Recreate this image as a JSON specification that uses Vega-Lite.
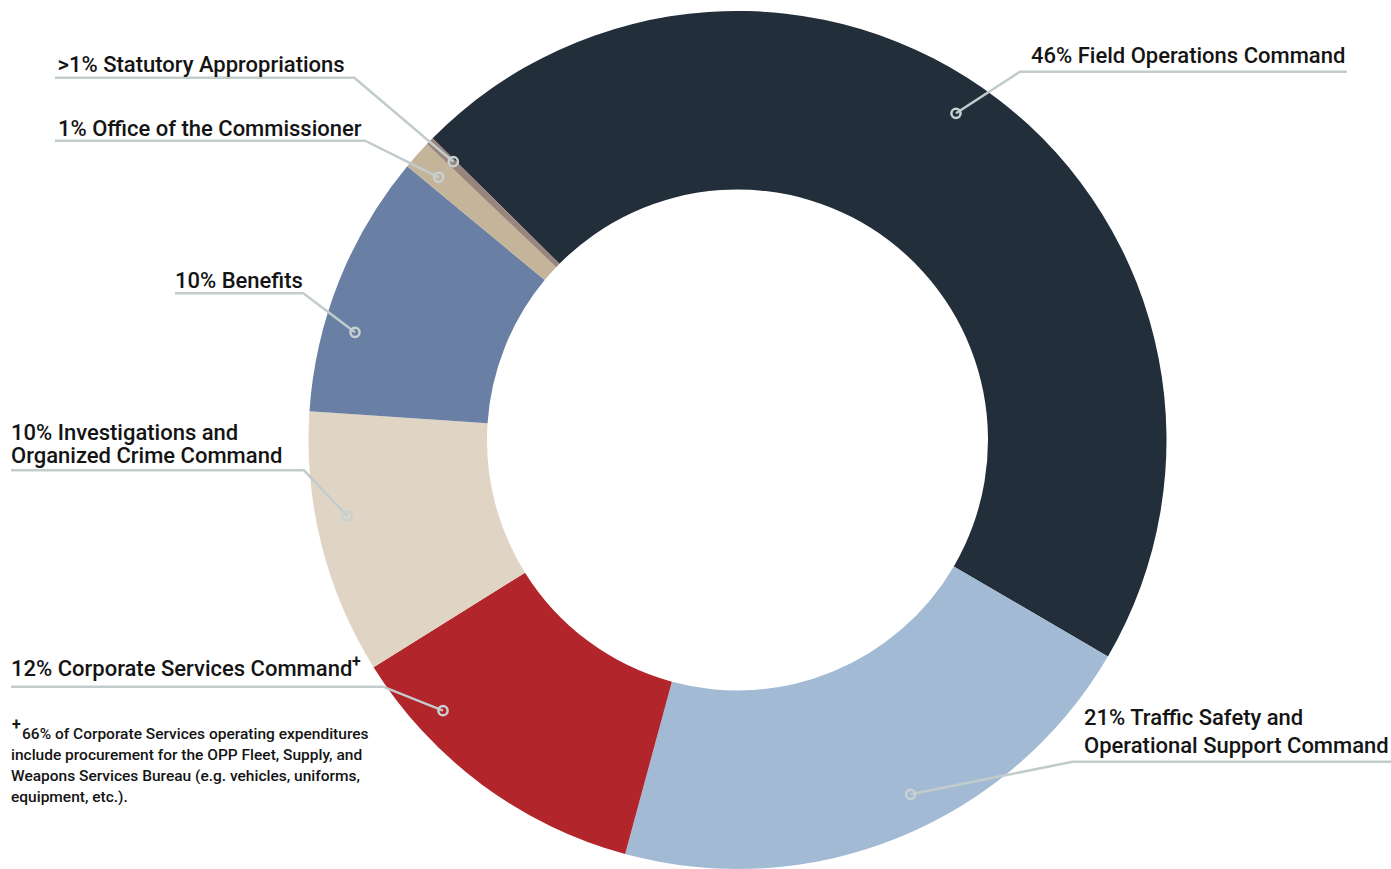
{
  "$schema": "https://vega.github.io/schema/vega-lite/v6.json",
  "width": 1391,
  "height": 869,
  "autosize": {"type": "none"},
  "padding": 0,
  "background": "#ffffff",
  "config": {"view": {"stroke": null}},
  "datasets": {
    "slices": [
      {"segment": "Field Operations Command", "pct": 46.0, "order": 1},
      {"segment": "Traffic Safety and Operational Support Command", "pct": 20.8, "order": 2},
      {"segment": "Corporate Services Command", "pct": 11.9, "order": 3},
      {"segment": "Investigations and Organized Crime Command", "pct": 9.95, "order": 4},
      {"segment": "Benefits", "pct": 9.95, "order": 5},
      {"segment": "Office of the Commissioner", "pct": 1.1, "order": 6},
      {"segment": "Statutory Appropriations", "pct": 0.3, "order": 7}
    ],
    "callouts": [
      {"callout": "field", "pt": 1, "ux": 1.4207, "uy": 0.8585},
      {"callout": "field", "pt": 2, "ux": 0.6585, "uy": 0.8585},
      {"callout": "field", "pt": 3, "ux": 0.5093, "uy": 0.7615},
      {"callout": "traffic", "pt": 1, "ux": 1.5233, "uy": -0.7499},
      {"callout": "traffic", "pt": 2, "ux": 0.7814, "uy": -0.7499},
      {"callout": "traffic", "pt": 3, "ux": 0.4037, "uy": -0.8259},
      {"callout": "corporate", "pt": 1, "ux": -1.6935, "uy": -0.5751},
      {"callout": "corporate", "pt": 2, "ux": -0.8263, "uy": -0.5751},
      {"callout": "corporate", "pt": 3, "ux": -0.6865, "uy": -0.631},
      {"callout": "investigations", "pt": 1, "ux": -1.6935, "uy": -0.0706},
      {"callout": "investigations", "pt": 2, "ux": -1.0105, "uy": -0.0706},
      {"callout": "investigations", "pt": 3, "ux": -0.9096, "uy": -0.1772},
      {"callout": "benefits", "pt": 1, "ux": -1.3112, "uy": 0.342},
      {"callout": "benefits", "pt": 2, "ux": -1.0121, "uy": 0.342},
      {"callout": "benefits", "pt": 3, "ux": -0.8916, "uy": 0.251},
      {"callout": "office", "pt": 1, "ux": -1.5909, "uy": 0.6977},
      {"callout": "office", "pt": 2, "ux": -0.8683, "uy": 0.6977},
      {"callout": "office", "pt": 3, "ux": -0.6965, "uy": 0.6124},
      {"callout": "statutory", "pt": 1, "ux": -1.5909, "uy": 0.8445},
      {"callout": "statutory", "pt": 2, "ux": -0.8932, "uy": 0.8445},
      {"callout": "statutory", "pt": 3, "ux": -0.6625, "uy": 0.6487}
    ],
    "labels": [
      {"kind": "label", "text": "46% Field Operations Command", "ux": 0.6841, "uy": 0.8788},
      {"kind": "label", "text": "21% Traffic Safety and", "ux": 0.8077, "uy": -0.6643},
      {"kind": "label", "text": "Operational Support Command", "ux": 0.8077, "uy": -0.7296},
      {"kind": "label", "text": "12% Corporate Services Command", "ux": -1.6935, "uy": -0.5501},
      {"kind": "label", "text": "10% Investigations and", "ux": -1.6935, "uy": 0.0},
      {"kind": "label", "text": "Organized Crime Command", "ux": -1.6935, "uy": -0.0536},
      {"kind": "label", "text": "10% Benefits", "ux": -1.3112, "uy": 0.3543},
      {"kind": "label", "text": "1% Office of the Commissioner", "ux": -1.5839, "uy": 0.7075},
      {"kind": "label", "text": ">1% Statutory Appropriations", "ux": -1.585, "uy": 0.8578},
      {"kind": "note", "text": "66% of Corporate Services operating expenditures", "ux": -1.6678, "uy": -0.697},
      {"kind": "note", "text": "include procurement for the OPP Fleet, Supply, and", "ux": -1.6935, "uy": -0.7459},
      {"kind": "note", "text": "Weapons Services Bureau (e.g. vehicles, uniforms,", "ux": -1.6935, "uy": -0.7949},
      {"kind": "note", "text": "equipment, etc.).", "ux": -1.6935, "uy": -0.8438},
      {"kind": "mark", "text": "+", "ux": -0.8986, "uy": -0.5291},
      {"kind": "mark", "text": "+", "ux": -1.6911, "uy": -0.676}
    ]
  },
  "layer": [
    {
      "data": {"name": "slices"},
      "mark": {"type": "arc", "outerRadius": 429, "innerRadius": 250.5},
      "encoding": {
        "theta": {"field": "pct", "type": "quantitative", "stack": true, "scale": {"range": [-0.7906, 5.4926]}},
        "order": {"field": "order", "type": "quantitative"},
        "color": {
          "field": "segment",
          "type": "nominal",
          "legend": null,
          "scale": {
            "domain": ["Field Operations Command", "Traffic Safety and Operational Support Command", "Corporate Services Command", "Investigations and Organized Crime Command", "Benefits", "Office of the Commissioner", "Statutory Appropriations"],
            "range": ["#232e3b", "#a2bad4", "#b2262b", "#e0d5c4", "#6a7fa4", "#c3b49a", "#9a857c"]
          }
        },
        "x": {"datum": 0, "type": "quantitative", "scale": {"domain": [-1.7191, 1.5233], "nice": false, "zero": false}, "axis": null},
        "y": {"datum": 0, "type": "quantitative", "scale": {"domain": [-1.0, 1.0256], "nice": false, "zero": false}, "axis": null}
      }
    },
    {
      "data": {"name": "callouts"},
      "mark": {"type": "line", "color": "#c2cccc", "strokeWidth": 2.5},
      "encoding": {
        "x": {"field": "ux", "type": "quantitative", "scale": {"domain": [-1.7191, 1.5233], "nice": false, "zero": false}, "axis": null},
        "y": {"field": "uy", "type": "quantitative", "scale": {"domain": [-1.0, 1.0256], "nice": false, "zero": false}, "axis": null},
        "detail": {"field": "callout", "type": "nominal"},
        "order": {"field": "pt", "type": "quantitative"}
      }
    },
    {
      "data": {"name": "callouts"},
      "transform": [{"filter": "datum.pt === 3"}],
      "mark": {"type": "point", "shape": "circle", "filled": false, "stroke": "#c8d2d2", "strokeWidth": 2.5, "size": 85, "opacity": 1},
      "encoding": {
        "x": {"field": "ux", "type": "quantitative", "scale": {"domain": [-1.7191, 1.5233], "nice": false, "zero": false}, "axis": null},
        "y": {"field": "uy", "type": "quantitative", "scale": {"domain": [-1.0, 1.0256], "nice": false, "zero": false}, "axis": null}
      }
    },
    {
      "data": {"name": "labels"},
      "transform": [{"filter": "datum.kind === 'label'"}],
      "mark": {"type": "text", "align": "left", "baseline": "alphabetic", "font": "Roboto, Liberation Sans, sans-serif", "fontSize": 22, "fontWeight": 500, "color": "#141414"},
      "encoding": {
        "x": {"field": "ux", "type": "quantitative", "scale": {"domain": [-1.7191, 1.5233], "nice": false, "zero": false}, "axis": null},
        "y": {"field": "uy", "type": "quantitative", "scale": {"domain": [-1.0, 1.0256], "nice": false, "zero": false}, "axis": null},
        "text": {"field": "text", "type": "nominal"}
      }
    },
    {
      "data": {"name": "labels"},
      "transform": [{"filter": "datum.kind === 'note'"}],
      "mark": {"type": "text", "align": "left", "baseline": "alphabetic", "font": "Roboto, Liberation Sans, sans-serif", "fontSize": 15.5, "fontWeight": 500, "color": "#141414"},
      "encoding": {
        "x": {"field": "ux", "type": "quantitative", "scale": {"domain": [-1.7191, 1.5233], "nice": false, "zero": false}, "axis": null},
        "y": {"field": "uy", "type": "quantitative", "scale": {"domain": [-1.0, 1.0256], "nice": false, "zero": false}, "axis": null},
        "text": {"field": "text", "type": "nominal"}
      }
    },
    {
      "data": {"name": "labels"},
      "transform": [{"filter": "datum.kind === 'mark'"}],
      "mark": {"type": "text", "align": "left", "baseline": "alphabetic", "font": "Roboto, Liberation Sans, sans-serif", "fontSize": 16, "fontWeight": "bold", "color": "#141414"},
      "encoding": {
        "x": {"field": "ux", "type": "quantitative", "scale": {"domain": [-1.7191, 1.5233], "nice": false, "zero": false}, "axis": null},
        "y": {"field": "uy", "type": "quantitative", "scale": {"domain": [-1.0, 1.0256], "nice": false, "zero": false}, "axis": null},
        "text": {"field": "text", "type": "nominal"}
      }
    }
  ]
}
